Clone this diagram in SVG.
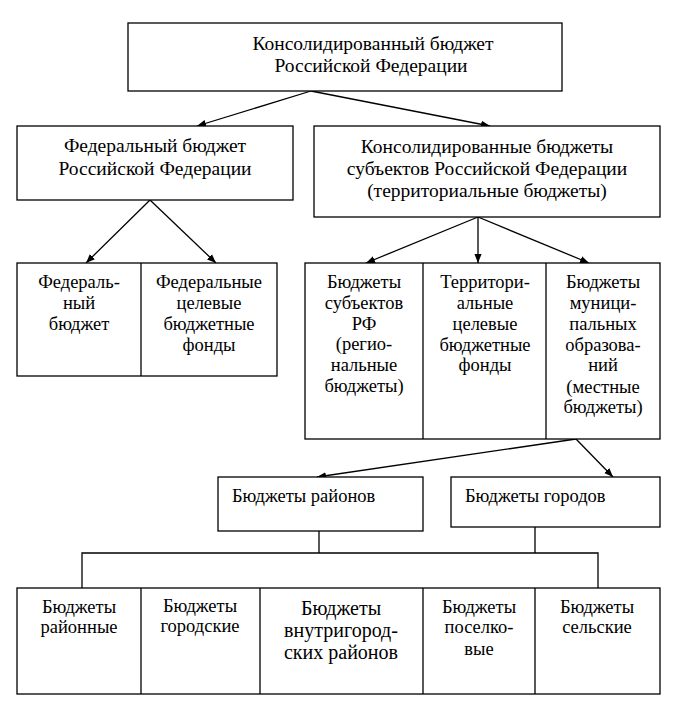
<svg xmlns="http://www.w3.org/2000/svg" width="685" height="714" viewBox="0 0 685 714">
<defs>
<style>
.box{fill:#fff;stroke:#000;stroke-width:1.3}
.ln{fill:none;stroke:#000;stroke-width:1.3}
.t{font-size:18.5px;fill:#000;text-anchor:middle}
.h{font-size:19.5px}
.b{font-size:20px}
.l{text-anchor:start}
</style>
<marker id="ah" viewBox="0 0 10 10" refX="10" refY="5" markerWidth="9" markerHeight="9" markerUnits="userSpaceOnUse" orient="auto">
<path d="M0,1 L10,5 L0,9 z" fill="#000"/>
</marker>
</defs>
<rect width="685" height="714" fill="#fff"/>

<g id="connectors">
<line class="ln" x1="311" y1="91" x2="197" y2="126" marker-end="url(#ah)"/>
<line class="ln" x1="311" y1="91" x2="490" y2="126" marker-end="url(#ah)"/>
<line class="ln" x1="150" y1="200" x2="86" y2="263" marker-end="url(#ah)"/>
<line class="ln" x1="150" y1="200" x2="216" y2="263" marker-end="url(#ah)"/>
<line class="ln" x1="478" y1="217" x2="366" y2="263" marker-end="url(#ah)"/>
<line class="ln" x1="478" y1="217" x2="478" y2="263" marker-end="url(#ah)"/>
<line class="ln" x1="478" y1="217" x2="589" y2="263" marker-end="url(#ah)"/>
<line class="ln" x1="576" y1="439" x2="317" y2="477" marker-end="url(#ah)"/>
<line class="ln" x1="576" y1="439" x2="613" y2="477" marker-end="url(#ah)"/>
<path class="ln" d="M319,531 V553 M535,527 V553 M82,588 V553 H598 V588"/>
</g>

<g id="n-consolidated">
<rect class="box" x="128" y="23" width="434" height="68"/>
<text class="t h" font-family="Liberation Serif" x="373" y="50">Консолидированный бюджет</text>
<text class="t h" font-family="Liberation Serif" x="371" y="72">Российской Федерации</text>
</g>

<g id="n-federal">
<rect class="box" x="17" y="126" width="276" height="74"/>
<text class="t h" font-family="Liberation Serif" x="155" y="152">Федеральный бюджет</text>
<text class="t h" font-family="Liberation Serif" x="155" y="175">Российской Федерации</text>
</g>

<g id="n-territorial">
<rect class="box" x="314" y="126" width="346" height="91"/>
<text class="t h" font-family="Liberation Serif" x="487" y="153">Консолидированные бюджеты</text>
<text class="t h" font-family="Liberation Serif" x="487" y="175">субъектов Российской Федерации</text>
<text class="t h" font-family="Liberation Serif" x="487" y="197">(территориальные бюджеты)</text>
</g>

<g id="n-federal-parts">
<rect class="box" x="17" y="263" width="260" height="113"/>
<line class="ln" x1="141" y1="263" x2="141" y2="376"/>
<text class="t" font-family="Liberation Serif" x="79" y="288">Федераль-</text>
<text class="t" font-family="Liberation Serif" x="79" y="309">ный</text>
<text class="t" font-family="Liberation Serif" x="79" y="330">бюджет</text>
<text class="t" font-family="Liberation Serif" x="209" y="288">Федеральные</text>
<text class="t" font-family="Liberation Serif" x="209" y="309">целевые</text>
<text class="t" font-family="Liberation Serif" x="209" y="330">бюджетные</text>
<text class="t" font-family="Liberation Serif" x="209" y="351">фонды</text>
</g>

<g id="n-territorial-parts">
<rect class="box" x="305" y="263" width="355" height="176"/>
<line class="ln" x1="423" y1="263" x2="423" y2="439"/>
<line class="ln" x1="546" y1="263" x2="546" y2="439"/>
<text class="t" font-family="Liberation Serif" x="364" y="288">Бюджеты</text>
<text class="t" font-family="Liberation Serif" x="364" y="309">субъектов</text>
<text class="t" font-family="Liberation Serif" x="364" y="330">РФ</text>
<text class="t" font-family="Liberation Serif" x="364" y="350">(регио-</text>
<text class="t" font-family="Liberation Serif" x="364" y="371">нальные</text>
<text class="t" font-family="Liberation Serif" x="364" y="392">бюджеты)</text>
<text class="t" font-family="Liberation Serif" x="485" y="288">Территори-</text>
<text class="t" font-family="Liberation Serif" x="485" y="309">альные</text>
<text class="t" font-family="Liberation Serif" x="485" y="330">целевые</text>
<text class="t" font-family="Liberation Serif" x="485" y="351">бюджетные</text>
<text class="t" font-family="Liberation Serif" x="485" y="371">фонды</text>
<text class="t" font-family="Liberation Serif" x="603" y="288">Бюджеты</text>
<text class="t" font-family="Liberation Serif" x="603" y="309">муници-</text>
<text class="t" font-family="Liberation Serif" x="603" y="330">пальных</text>
<text class="t" font-family="Liberation Serif" x="603" y="351">образова-</text>
<text class="t" font-family="Liberation Serif" x="603" y="371">ний</text>
<text class="t" font-family="Liberation Serif" x="603" y="393">(местные</text>
<text class="t" font-family="Liberation Serif" x="603" y="413">бюджеты)</text>
</g>

<g id="n-districts">
<rect class="box" x="218" y="477" width="205" height="54"/>
<text class="t l" font-family="Liberation Serif" x="232" y="502">Бюджеты районов</text>
</g>

<g id="n-cities">
<rect class="box" x="451" y="477" width="209" height="50"/>
<text class="t l" font-family="Liberation Serif" x="465" y="502">Бюджеты городов</text>
</g>

<g id="n-local-parts">
<rect class="box" x="17" y="588" width="643" height="106"/>
<path class="ln" d="M141,588 V694 M260,588 V694 M423,588 V694 M535,588 V694"/>
<text class="t" font-family="Liberation Serif" x="79" y="613">Бюджеты</text>
<text class="t" font-family="Liberation Serif" x="79" y="633">районные</text>
<text class="t" font-family="Liberation Serif" x="200" y="612">Бюджеты</text>
<text class="t" font-family="Liberation Serif" x="200" y="632">городские</text>
<text class="t b" font-family="Liberation Serif" x="341" y="615">Бюджеты</text>
<text class="t b" font-family="Liberation Serif" x="341" y="637">внутригород-</text>
<text class="t b" font-family="Liberation Serif" x="341" y="659">ских районов</text>
<text class="t" font-family="Liberation Serif" x="479" y="613">Бюджеты</text>
<text class="t" font-family="Liberation Serif" x="479" y="633">поселко-</text>
<text class="t" font-family="Liberation Serif" x="479" y="655">вые</text>
<text class="t" font-family="Liberation Serif" x="597" y="613">Бюджеты</text>
<text class="t" font-family="Liberation Serif" x="597" y="633">сельские</text>
</g>
</svg>
